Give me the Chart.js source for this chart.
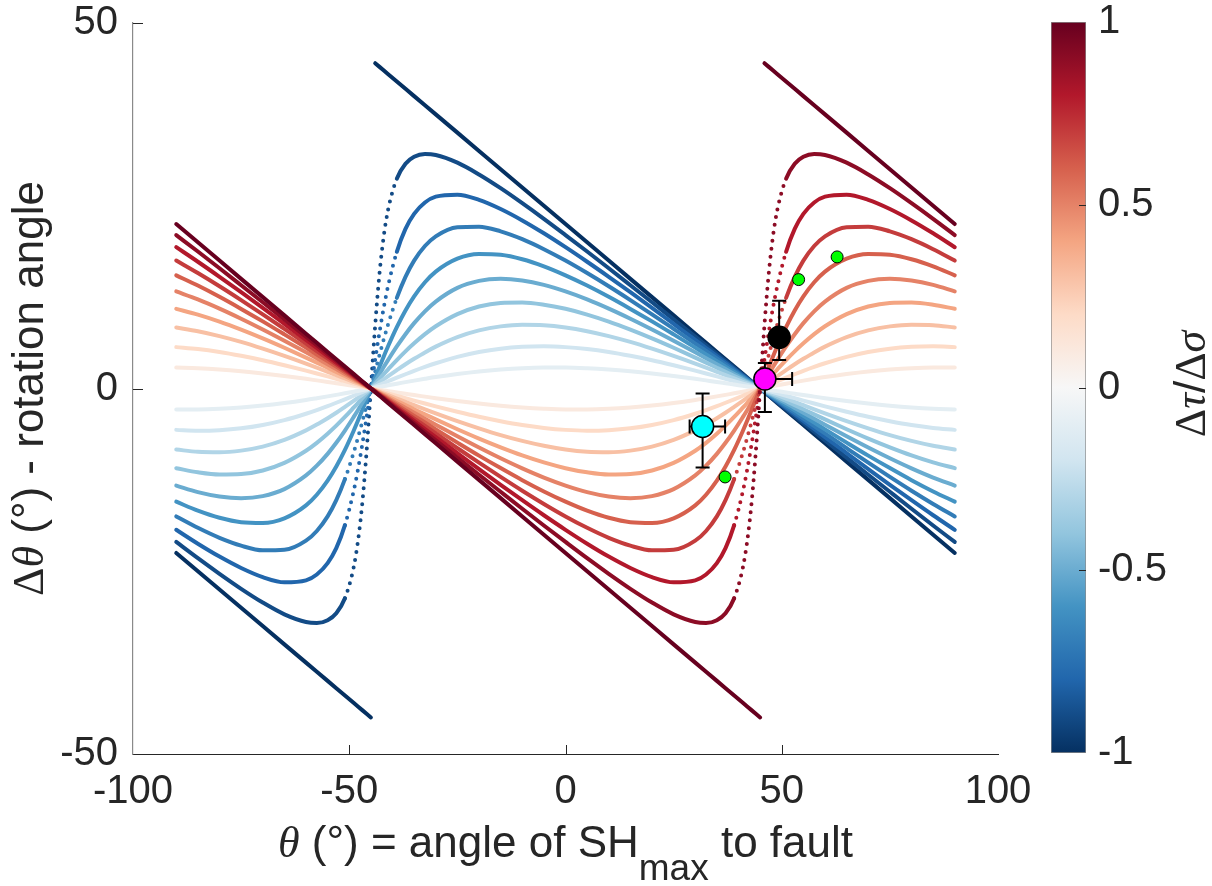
<!DOCTYPE html>
<html>
<head>
<meta charset="utf-8">
<script src="https://cdn.jsdelivr.net/npm/chart.js@4.4.0/dist/chart.umd.min.js"></script>
<style>
  html, body { margin: 0; padding: 0; background: #fff; }
  #wrap { position: relative; width: 1212px; height: 886px; }
  #main { position: absolute; left: 0; top: 0; }
  #cbar { position: absolute; left: 1040px; top: 0; }
</style>
</head>
<body>
<div id="wrap">
  <canvas id="main" width="1212" height="886"></canvas>
  <canvas id="cbar" width="172" height="886"></canvas>
</div>
<script>
// theta (deg) = angle of SHmax to fault, shared by every curve
const theta = [-90,-85,-80,-75,-70,-65,-60,-57.5,-55,-53,-51,-49,-48,-47,-46,-45,
  -44,-43,-42,-41,-39,-37,-35,-32.5,-30,-25,-20,-15,-10,-5,0,
  5,10,15,20,25,30,32.5,35,37,39,41,42,43,44,45,
  46,47,48,49,51,53,55,57.5,60,65,70,75,80,85,90];

// rotation angle, one curve per dtau/dsigma ratio
const rot_p10 = [22.5,20,17.5,15,12.5,10,7.5,6.25,5,4,3,2,1.5,1,0.5,0, -0.5,-1,-1.5,-2,-3,-4,-5,-6.25,-7.5,-10,-12.5,-15,-17.5,-20,-22.5, -25,-27.5,-30,-32.5,-35,-37.5,-38.75,-40,-41,-42,-43,-43.5,-44,-44.5,-45, 44.5,44,43.5,43,42,41,40,38.75,37.5,35,32.5,30,27.5,25,22.5];
const rot_p09 = [20.99,18.74,16.45,14.13,11.80,9.45,7.10,5.92,4.73,3.79,2.84,1.89,1.42,0.95,0.47,0, -0.47,-0.95,-1.42,-1.89,-2.84,-3.79,-4.73,-5.92,-7.10,-9.45,-11.80,-14.13,-16.45,-18.74,-20.99, -23.21,-25.35,-27.40,-29.28,-30.89,-31.94,-32.07,-31.69,-30.74,-28.70,-24.52,-20.94,-15.78,-8.67,0, 8.67,15.78,20.94,24.52,28.70,30.74,31.69,32.07,31.94,30.89,29.28,27.40,25.35,23.21,20.99];
const rot_p08 = [19.33,17.34,15.28,13.17,11.02,8.84,6.65,5.54,4.44,3.55,2.67,1.78,1.33,0.89,0.44,0, -0.44,-0.89,-1.33,-1.78,-2.67,-3.55,-4.44,-5.54,-6.65,-8.84,-11.02,-13.17,-15.28,-17.34,-19.33, -21.23,-22.99,-24.55,-25.80,-26.51,-26.24,-25.44,-23.89,-21.84,-18.70,-14.09,-11.13,-7.72,-3.96,0, 3.96,7.72,11.13,14.09,18.70,21.84,23.89,25.44,26.24,26.51,25.80,24.55,22.99,21.23,19.33];
const rot_p07 = [17.50,15.79,13.98,12.09,10.15,8.16,6.15,5.13,4.11,3.29,2.47,1.65,1.24,0.82,0.41,0, -0.41,-0.82,-1.24,-1.65,-2.47,-3.29,-4.11,-5.13,-6.15,-8.16,-10.15,-12.09,-13.98,-15.79,-17.50, -19.06,-20.43,-21.50,-22.14,-22.07,-20.82,-19.49,-17.49,-15.27,-12.39,-8.81,-6.77,-4.60,-2.33,0, 2.33,4.60,6.77,8.81,12.39,15.27,17.49,19.49,20.82,22.07,22.14,21.50,20.43,19.06,17.50];
const rot_p06 = [15.48,14.08,12.54,10.89,9.18,7.40,5.59,4.66,3.74,2.99,2.25,1.50,1.13,0.75,0.38,0, -0.38,-0.75,-1.13,-1.50,-2.25,-2.99,-3.74,-4.66,-5.59,-7.40,-9.18,-10.89,-12.54,-14.08,-15.48, -16.71,-17.68,-18.29,-18.40,-17.76,-15.99,-14.53,-12.60,-10.67,-8.40,-5.81,-4.42,-2.98,-1.50,0, 1.50,2.98,4.42,5.81,8.40,10.67,12.60,14.53,15.99,17.76,18.40,18.29,17.68,16.71,15.48];
const rot_p05 = [13.28,12.19,10.93,9.55,8.08,6.54,4.95,4.14,3.32,2.66,2.00,1.33,1.00,0.67,0.33,0, -0.33,-0.67,-1.00,-1.33,-2.00,-2.66,-3.32,-4.14,-4.95,-6.54,-8.08,-9.55,-10.93,-12.19,-13.28, -14.17,-14.77,-15.00,-14.72,-13.76,-11.89,-10.56,-8.94,-7.43,-5.75,-3.92,-2.97,-1.99,-1.00,0, 1.00,1.99,2.97,3.92,5.75,7.43,8.94,10.56,11.89,13.76,14.72,15.00,14.77,14.17,13.28];
const rot_p04 = [10.90,10.11,9.15,8.05,6.85,5.57,4.23,3.54,2.84,2.28,1.71,1.14,0.86,0.57,0.29,0, -0.29,-0.57,-0.86,-1.14,-1.71,-2.28,-2.84,-3.54,-4.23,-5.57,-6.85,-8.05,-9.15,-10.11,-10.90, -11.47,-11.77,-11.71,-11.21,-10.17,-8.51,-7.43,-6.18,-5.08,-3.89,-2.63,-1.99,-1.33,-0.67,0, 0.67,1.33,1.99,2.63,3.89,5.08,6.18,7.43,8.51,10.17,11.21,11.71,11.77,11.47,10.90];
const rot_p03 = [8.35,7.84,7.17,6.37,5.45,4.46,3.40,2.85,2.29,1.84,1.38,0.92,0.69,0.46,0.23,0, -0.23,-0.46,-0.69,-0.92,-1.38,-1.84,-2.29,-2.85,-3.40,-4.46,-5.45,-6.37,-7.17,-7.84,-8.35, -8.66,-8.72,-8.50,-7.95,-7.03,-5.73,-4.94,-4.06,-3.32,-2.52,-1.70,-1.28,-0.86,-0.43,0, 0.43,0.86,1.28,1.70,2.52,3.32,4.06,4.94,5.73,7.03,7.95,8.50,8.72,8.66,8.35];
const rot_p02 = [5.66,5.39,4.99,4.47,3.87,3.18,2.44,2.05,1.65,1.32,1.00,0.67,0.50,0.33,0.17,0, -0.17,-0.33,-0.50,-0.67,-1.00,-1.32,-1.65,-2.05,-2.44,-3.18,-3.87,-4.47,-4.99,-5.39,-5.66, -5.77,-5.70,-5.45,-4.99,-4.32,-3.45,-2.95,-2.41,-1.95,-1.48,-0.99,-0.75,-0.50,-0.25,0, 0.25,0.50,0.75,0.99,1.48,1.95,2.41,2.95,3.45,4.32,4.99,5.45,5.70,5.77,5.66];
const rot_p01 = [2.86,2.77,2.60,2.36,2.06,1.71,1.32,1.11,0.90,0.72,0.54,0.36,0.27,0.18,0.09,0, -0.09,-0.18,-0.27,-0.36,-0.54,-0.72,-0.90,-1.11,-1.32,-1.71,-2.06,-2.36,-2.60,-2.77,-2.86, -2.86,-2.78,-2.60,-2.34,-1.99,-1.57,-1.33,-1.08,-0.87,-0.66,-0.44,-0.33,-0.22,-0.11,0, 0.11,0.22,0.33,0.44,0.66,0.87,1.08,1.33,1.57,1.99,2.34,2.60,2.78,2.86,2.86];
const rot_m01 = [-2.86,-2.86,-2.78,-2.60,-2.34,-1.99,-1.57,-1.33,-1.08,-0.87,-0.66,-0.44,-0.33,-0.22,-0.11,0, 0.11,0.22,0.33,0.44,0.66,0.87,1.08,1.33,1.57,1.99,2.34,2.60,2.78,2.86,2.86, 2.77,2.60,2.36,2.06,1.71,1.32,1.11,0.90,0.72,0.54,0.36,0.27,0.18,0.09,0, -0.09,-0.18,-0.27,-0.36,-0.54,-0.72,-0.90,-1.11,-1.32,-1.71,-2.06,-2.36,-2.60,-2.77,-2.86];
const rot_m02 = [-5.66,-5.77,-5.70,-5.45,-4.99,-4.32,-3.45,-2.95,-2.41,-1.95,-1.48,-0.99,-0.75,-0.50,-0.25,0, 0.25,0.50,0.75,0.99,1.48,1.95,2.41,2.95,3.45,4.32,4.99,5.45,5.70,5.77,5.66, 5.39,4.99,4.47,3.87,3.18,2.44,2.05,1.65,1.32,1.00,0.67,0.50,0.33,0.17,0, -0.17,-0.33,-0.50,-0.67,-1.00,-1.32,-1.65,-2.05,-2.44,-3.18,-3.87,-4.47,-4.99,-5.39,-5.66];
const rot_m03 = [-8.35,-8.66,-8.72,-8.50,-7.95,-7.03,-5.73,-4.94,-4.06,-3.32,-2.52,-1.70,-1.28,-0.86,-0.43,0, 0.43,0.86,1.28,1.70,2.52,3.32,4.06,4.94,5.73,7.03,7.95,8.50,8.72,8.66,8.35, 7.84,7.17,6.37,5.45,4.46,3.40,2.85,2.29,1.84,1.38,0.92,0.69,0.46,0.23,0, -0.23,-0.46,-0.69,-0.92,-1.38,-1.84,-2.29,-2.85,-3.40,-4.46,-5.45,-6.37,-7.17,-7.84,-8.35];
const rot_m04 = [-10.90,-11.47,-11.77,-11.71,-11.21,-10.17,-8.51,-7.43,-6.18,-5.08,-3.89,-2.63,-1.99,-1.33,-0.67,0, 0.67,1.33,1.99,2.63,3.89,5.08,6.18,7.43,8.51,10.17,11.21,11.71,11.77,11.47,10.90, 10.11,9.15,8.05,6.85,5.57,4.23,3.54,2.84,2.28,1.71,1.14,0.86,0.57,0.29,0, -0.29,-0.57,-0.86,-1.14,-1.71,-2.28,-2.84,-3.54,-4.23,-5.57,-6.85,-8.05,-9.15,-10.11,-10.90];
const rot_m05 = [-13.28,-14.17,-14.77,-15.00,-14.72,-13.76,-11.89,-10.56,-8.94,-7.43,-5.75,-3.92,-2.97,-1.99,-1.00,0, 1.00,1.99,2.97,3.92,5.75,7.43,8.94,10.56,11.89,13.76,14.72,15.00,14.77,14.17,13.28, 12.19,10.93,9.55,8.08,6.54,4.95,4.14,3.32,2.66,2.00,1.33,1.00,0.67,0.33,0, -0.33,-0.67,-1.00,-1.33,-2.00,-2.66,-3.32,-4.14,-4.95,-6.54,-8.08,-9.55,-10.93,-12.19,-13.28];
const rot_m06 = [-15.48,-16.71,-17.68,-18.29,-18.40,-17.76,-15.99,-14.53,-12.60,-10.67,-8.40,-5.81,-4.42,-2.98,-1.50,0, 1.50,2.98,4.42,5.81,8.40,10.67,12.60,14.53,15.99,17.76,18.40,18.29,17.68,16.71,15.48, 14.08,12.54,10.89,9.18,7.40,5.59,4.66,3.74,2.99,2.25,1.50,1.13,0.75,0.38,0, -0.38,-0.75,-1.13,-1.50,-2.25,-2.99,-3.74,-4.66,-5.59,-7.40,-9.18,-10.89,-12.54,-14.08,-15.48];
const rot_m07 = [-17.50,-19.06,-20.43,-21.50,-22.14,-22.07,-20.82,-19.49,-17.49,-15.27,-12.39,-8.81,-6.77,-4.60,-2.33,0, 2.33,4.60,6.77,8.81,12.39,15.27,17.49,19.49,20.82,22.07,22.14,21.50,20.43,19.06,17.50, 15.79,13.98,12.09,10.15,8.16,6.15,5.13,4.11,3.29,2.47,1.65,1.24,0.82,0.41,0, -0.41,-0.82,-1.24,-1.65,-2.47,-3.29,-4.11,-5.13,-6.15,-8.16,-10.15,-12.09,-13.98,-15.79,-17.50];
const rot_m08 = [-19.33,-21.23,-22.99,-24.55,-25.80,-26.51,-26.24,-25.44,-23.89,-21.84,-18.70,-14.09,-11.13,-7.72,-3.96,0, 3.96,7.72,11.13,14.09,18.70,21.84,23.89,25.44,26.24,26.51,25.80,24.55,22.99,21.23,19.33, 17.34,15.28,13.17,11.02,8.84,6.65,5.54,4.44,3.55,2.67,1.78,1.33,0.89,0.44,0, -0.44,-0.89,-1.33,-1.78,-2.67,-3.55,-4.44,-5.54,-6.65,-8.84,-11.02,-13.17,-15.28,-17.34,-19.33];
const rot_m09 = [-20.99,-23.21,-25.35,-27.40,-29.28,-30.89,-31.94,-32.07,-31.69,-30.74,-28.70,-24.52,-20.94,-15.78,-8.67,0, 8.67,15.78,20.94,24.52,28.70,30.74,31.69,32.07,31.94,30.89,29.28,27.40,25.35,23.21,20.99, 18.74,16.45,14.13,11.80,9.45,7.10,5.92,4.73,3.79,2.84,1.89,1.42,0.95,0.47,0, -0.47,-0.95,-1.42,-1.89,-2.84,-3.79,-4.73,-5.92,-7.10,-9.45,-11.80,-14.13,-16.45,-18.74,-20.99];
const rot_m10 = [-22.5,-25,-27.5,-30,-32.5,-35,-37.5,-38.75,-40,-41,-42,-43,-43.5,-44,-44.5,-45, 44.5,44,43.5,43,42,41,40,38.75,37.5,35,32.5,30,27.5,25,22.5, 20,17.5,15,12.5,10,7.5,6.25,5,4,3,2,1.5,1,0.5,0, -0.5,-1,-1.5,-2,-3,-4,-5,-6.25,-7.5,-10,-12.5,-15,-17.5,-20,-22.5];

const ratios = [1, 0.9, 0.8, 0.7, 0.6, 0.5, 0.4, 0.3, 0.2, 0.1, -0.1, -0.2, -0.3, -0.4, -0.5, -0.6, -0.7, -0.8, -0.9, -1];
const curves = [rot_p10, rot_p09, rot_p08, rot_p07, rot_p06, rot_p05, rot_p04, rot_p03, rot_p02, rot_p01,
  rot_m01, rot_m02, rot_m03, rot_m04, rot_m05, rot_m06, rot_m07, rot_m08, rot_m09, rot_m10];
const curveColors = ['#67001f','#8c0c25','#b2182b','#c43c3c','#d6604d','#e58267','#f4a582','#f8c0a4','#fddbc7','#fae9df',
  '#e4eef3','#d1e5f0','#b1d5e7','#92c5de','#6aacd0','#4393c3','#327cb7','#2166ac','#134b86','#053061'];
const cmapStops = ['#053061','#2166ac','#4393c3','#92c5de','#d1e5f0','#f7f7f7','#fddbc7','#f4a582','#d6604d','#b2182b','#67001f'];

// observations with error bars
const obsTheta = [31.7, 46.1, 49.4];
const obsRot = [-5.2, 1.3, 7.0];
const obsColors = ['#00ffff', '#ff00ff', '#000000'];
const obsRotLow = [-10.8, -3.2, 3.9];
const obsRotHigh = [-0.7, 3.5, 12.0];
const obsThetaLow = [28.7, 45.0, null];
const obsThetaHigh = [36.9, 52.4, null];

// green points
const greenTheta = [36.9, 53.9, 62.8];
const greenRot = [-12.1, 14.9, 18.0];

Chart.defaults.font.family = '"Liberation Sans", Arial, Helvetica, sans-serif';
Chart.defaults.color = '#262626';

const INK = '#262626';
const SANS = '"Liberation Sans", Arial, sans-serif';
const SERIF = '"Liberation Serif", "Times New Roman", serif';

function richText(ctx, parts, x, y, rot) {
  ctx.save();
  ctx.translate(x, y);
  ctx.rotate(rot);
  ctx.fillStyle = INK;
  ctx.textAlign = 'left';
  ctx.textBaseline = 'alphabetic';
  let total = 0;
  parts.forEach(p => { ctx.font = p.font; p.w = ctx.measureText(p.t).width; total += p.w; });
  let cx = -total / 2;
  parts.forEach(p => { ctx.font = p.font; ctx.fillText(p.t, cx, p.dy || 0); cx += p.w; });
  ctx.restore();
}

const noPad = s => { s.paddingTop = 0; s.paddingBottom = 0; s.paddingLeft = 0; s.paddingRight = 0; };

const datasets = [];
datasets.push({
  type: 'scatter',
  data: obsTheta.map((x, i) => ({ x, y: obsRot[i] })),
  pointRadius: 11,
  pointBackgroundColor: obsColors,
  pointBorderColor: '#000',
  pointBorderWidth: 1.5,
  showLine: false
});
datasets.push({
  type: 'scatter',
  data: greenTheta.map((x, i) => ({ x, y: greenRot[i] })),
  pointRadius: 6,
  pointBackgroundColor: '#00ff00',
  pointBorderColor: '#000',
  pointBorderWidth: 1,
  showLine: false
});
curves.forEach((arr, k) => {
  const straight = Math.abs(ratios[k]) === 1;
  datasets.push({
    type: 'line',
    label: String(ratios[k]),
    data: theta.map((x, i) => ({ x, y: arr[i] })),
    borderColor: curveColors[k],
    borderWidth: 4,
    pointRadius: 0,
    fill: false,
    tension: 0,
    cubicInterpolationMode: straight ? 'default' : 'monotone',
    borderCapStyle: 'round',
    borderJoinStyle: 'round',
    segment: {
      borderColor: c => Math.abs(c.p1.parsed.y - c.p0.parsed.y) > 40 ? 'rgba(0,0,0,0)' : undefined,
      borderDash: c => {
        const dx = Math.abs(c.p1.x - c.p0.x), dy = Math.abs(c.p1.y - c.p0.y);
        return dy > 3 * dx ? [0, 8] : undefined;
      }
    }
  });
});

const decor = {
  id: 'decor',
  beforeDatasetDraw(chart, args) {
    if (args.index !== 0) return;
    const { ctx, scales: { x, y } } = chart;
    ctx.save();
    ctx.strokeStyle = '#000';
    ctx.lineWidth = 2;
    const cap = 7;
    obsTheta.forEach((t, i) => {
      const px = x.getPixelForValue(t);
      const py = y.getPixelForValue(obsRot[i]);
      const y0 = y.getPixelForValue(obsRotLow[i]), y1 = y.getPixelForValue(obsRotHigh[i]);
      ctx.beginPath();
      ctx.moveTo(px, y0); ctx.lineTo(px, y1);
      ctx.moveTo(px - cap, y0); ctx.lineTo(px + cap, y0);
      ctx.moveTo(px - cap, y1); ctx.lineTo(px + cap, y1);
      if (obsThetaLow[i] !== null) {
        const x0 = x.getPixelForValue(obsThetaLow[i]), x1 = x.getPixelForValue(obsThetaHigh[i]);
        ctx.moveTo(x0, py); ctx.lineTo(x1, py);
        ctx.moveTo(x0, py - cap); ctx.lineTo(x0, py + cap);
        ctx.moveTo(x1, py - cap); ctx.lineTo(x1, py + cap);
      }
      ctx.stroke();
    });
    ctx.restore();
  },
  afterDraw(chart) {
    const { ctx, chartArea: a, scales: { x, y } } = chart;
    ctx.save();
    ctx.strokeStyle = INK;
    ctx.lineWidth = 1;
    ctx.beginPath();
    [-50, 0, 50].forEach(v => {
      const px = Math.round(x.getPixelForValue(v)) + 0.5;
      ctx.moveTo(px, a.bottom); ctx.lineTo(px, a.bottom - 9);
    });
    [0, 50].forEach(v => {
      const py = Math.round(y.getPixelForValue(v)) + 0.5;
      ctx.moveTo(a.left, py); ctx.lineTo(a.left + 10, py);
    });
    ctx.stroke();
    ctx.restore();

    richText(ctx, [
      { t: 'θ', font: 'italic 44px ' + SERIF },
      { t: ' (°) = angle of SH', font: '44px ' + SANS },
      { t: 'max', font: '37px ' + SANS, dy: 23 },
      { t: ' to fault', font: '44px ' + SANS }
    ], (a.left + a.right) / 2, 857, 0);

    richText(ctx, [
      { t: 'Δ', font: '44px ' + SERIF },
      { t: 'θ', font: 'italic 44px ' + SERIF },
      { t: ' (°) - rotation angle', font: '44px ' + SANS }
    ], 43, (a.top + a.bottom) / 2, -Math.PI / 2);
  }
};

new Chart(document.getElementById('main'), {
  type: 'line',
  data: { datasets },
  options: {
    responsive: false,
    animation: false,
    events: [],
    layout: { padding: { top: 23, right: 214, bottom: 0, left: 0 } },
    plugins: { legend: { display: false }, tooltip: { enabled: false } },
    scales: {
      x: {
        type: 'linear', min: -100, max: 100,
        ticks: { stepSize: 50, font: { size: 40 }, color: INK, padding: 14, maxRotation: 0 },
        grid: { display: false, drawTicks: false },
        border: { display: true, color: INK, width: 1 },
        afterFit: s => { s.height = 132; noPad(s); }
      },
      y: {
        type: 'linear', min: -50, max: 50,
        ticks: { stepSize: 50, font: { size: 40 }, color: INK, padding: 15 },
        grid: { display: false, drawTicks: false },
        border: { display: true, color: '#8a8a8a', width: 1.2 },
        afterFit: s => { s.width = 133; noPad(s); }
      }
    }
  },
  plugins: [decor]
});

// colour bar
const cbarDecor = {
  id: 'cbarDecor',
  afterDraw(chart) {
    const { ctx, chartArea: a, scales: { y } } = chart;
    ctx.save();
    ctx.strokeStyle = INK;
    ctx.lineWidth = 1;
    ctx.beginPath();
    [-0.5, 0, 0.5].forEach(v => {
      const py = Math.round(y.getPixelForValue(v)) + 0.5;
      ctx.moveTo(a.right, py); ctx.lineTo(a.right - 7, py);
    });
    ctx.stroke();
    ctx.restore();
    richText(ctx, [
      { t: 'Δ', font: '44px ' + SERIF },
      { t: 'τ', font: 'italic 44px ' + SERIF },
      { t: '/', font: '44px ' + SANS },
      { t: 'Δ', font: '44px ' + SERIF },
      { t: 'σ', font: 'italic 44px ' + SERIF }
    ], 165, 384, -Math.PI / 2);
  }
};

new Chart(document.getElementById('cbar'), {
  type: 'bar',
  data: {
    labels: [''],
    datasets: [{
      data: [[-1, 1]],
      backgroundColor: c => {
        const area = c.chart.chartArea;
        if (!area) return '#ffffff';
        const g = c.chart.ctx.createLinearGradient(0, area.bottom, 0, area.top);
        cmapStops.forEach((col, i) => g.addColorStop(i / (cmapStops.length - 1), col));
        return g;
      },
      borderColor: '#8a8a8a',
      borderWidth: 1,
      borderSkipped: false,
      barPercentage: 1,
      categoryPercentage: 1
    }]
  },
  options: {
    responsive: false,
    animation: false,
    events: [],
    layout: { padding: { top: 22, right: 0, bottom: 133, left: 11 } },
    plugins: { legend: { display: false }, tooltip: { enabled: false } },
    scales: {
      x: { display: false },
      y: {
        position: 'right', min: -1, max: 1,
        ticks: { stepSize: 0.5, font: { size: 40 }, color: INK, padding: 12, callback: v => String(v) },
        grid: { display: false, drawTicks: false },
        border: { display: false },
        afterFit: s => { s.width = 126; noPad(s); }
      }
    }
  },
  plugins: [cbarDecor]
});
</script>
</body>
</html>
